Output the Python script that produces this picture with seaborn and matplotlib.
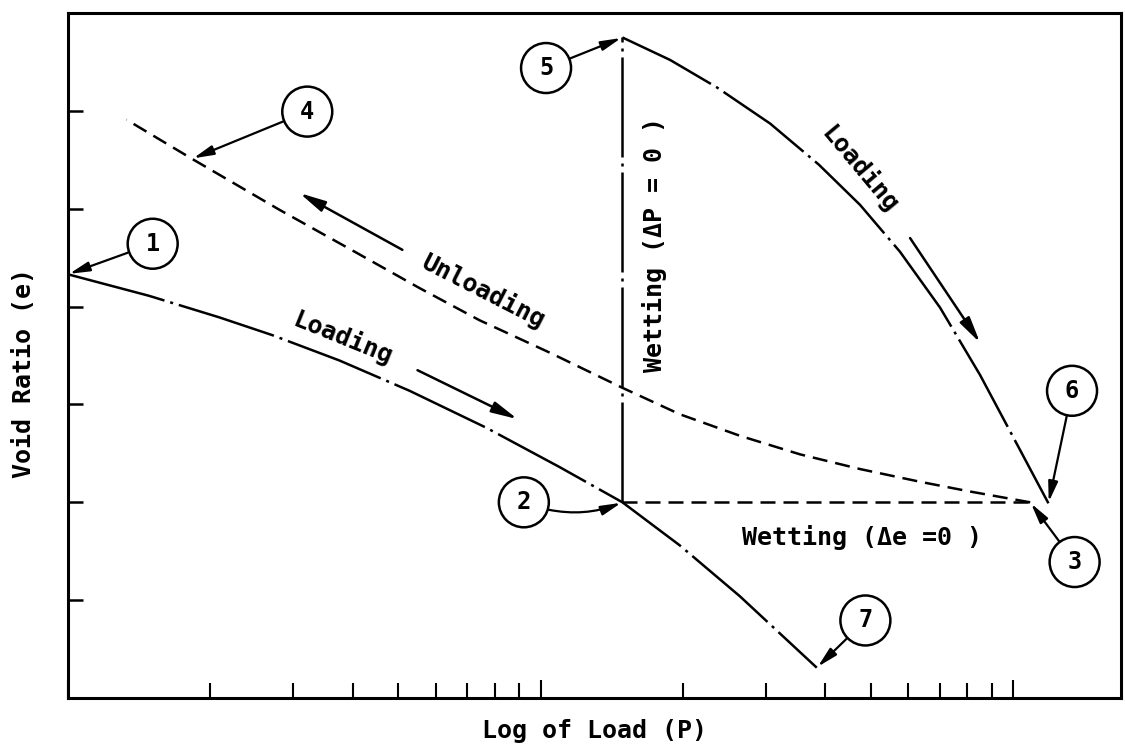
import matplotlib
matplotlib.use("Agg")
import matplotlib.pyplot as plt
from matplotlib.ticker import LogLocator, NullFormatter
import seaborn as sns

# loading path 1 -> 2 -> 7 (dash-dot)
load_a_P = [1.0, 1.485, 2.09, 2.70, 3.75, 5.28, 7.69, 10.97, 14.9, 19.7, 26.4, 38.4]
load_a_e = [4.33, 4.11, 3.89, 3.71, 3.45, 3.14, 2.76, 2.36, 2.00, 1.56, 1.04, 0.31]

# unloading path 3 -> 4 (dashed)
unload_P = [108.6, 81.1, 63.5, 47.4, 35.4, 26.4, 19.7, 14.9, 10.45, 7.43, 5.54,
            4.08, 2.80, 1.83, 1.33]
unload_e = [2.00, 2.11, 2.21, 2.34, 2.49, 2.68, 2.90, 3.17, 3.53, 3.86, 4.19,
            4.55, 4.99, 5.51, 5.91]

# loading path 5 -> 6 after wetting (dash-dot)
load_b_P = [14.9, 18.8, 23.6, 30.6, 38.8, 47.4, 57.6, 70.0, 85.1, 103.5, 118.7]
load_b_e = [6.75, 6.52, 6.24, 5.87, 5.45, 5.04, 4.56, 3.99, 3.30, 2.53, 1.99]

# wetting paths starting at point 2
wet_dP_P = [14.9, 14.9]      # constant load
wet_dP_e = [2.00, 6.75]
wet_de_P = [14.9, 108.6]     # constant void ratio
wet_de_e = [2.00, 2.00]

# numbered state points
point_labels = ['1', '2', '3', '4', '5', '6', '7']
point_P = [1.0, 14.9, 108.6, 1.83, 14.9, 118.7, 38.4]
point_e = [4.33, 2.00, 2.00, 5.51, 6.75, 1.99, 0.31]

# direction arrows (tail -> head)
arrow_tail_P = [5.10, 5.49, 60.5]
arrow_tail_e = [4.58, 3.35, 4.70]
arrow_head_P = [3.09, 8.94, 85.1]
arrow_head_e = [5.16, 2.85, 3.63]

sns.set_theme(style="white", rc={"axes.edgecolor": "black", "text.color": "black",
                                 "axes.labelcolor": "black", "xtick.color": "black",
                                 "ytick.color": "black"})
plt.rcParams['font.family'] = ['DejaVu Sans Mono', 'DejaVu Sans']
plt.rcParams['font.weight'] = 'bold'

fig = plt.figure(figsize=(11.25, 7.48), dpi=100)
ax = fig.add_axes([0.0604, 0.0668, 0.936, 0.9158])

lw = 1.8
dashdot = (0, (40, 2.4, 1.2, 2.4))
dashed = (0, (6, 3.2))

sns.lineplot(x=load_a_P, y=load_a_e, ax=ax, color='black', lw=lw, linestyle=dashdot,
             sort=False, estimator=None)
sns.lineplot(x=unload_P, y=unload_e, ax=ax, color='black', lw=lw, linestyle=dashed,
             sort=False, estimator=None)
sns.lineplot(x=load_b_P, y=load_b_e, ax=ax, color='black', lw=lw, linestyle=dashdot,
             sort=False, estimator=None)
sns.lineplot(x=wet_dP_P, y=wet_dP_e, ax=ax, color='black', lw=lw, linestyle=dashdot,
             sort=False, estimator=None)
sns.lineplot(x=wet_de_P, y=wet_de_e, ax=ax, color='black', lw=lw, linestyle=dashed,
             sort=False, estimator=None)

# circled point numbers with pointer arrows
label_offsets = [(61, 22), (-71, 0), (32, -43), (83, 34), (-55, -22), (17, 81), (35, 34)]
label_rads = [0, 0.2, 0, 0, 0, 0, 0]
for lab, p, e, off, rad in zip(point_labels, point_P, point_e, label_offsets, label_rads):
    ax.annotate(lab, xy=(p, e), xytext=off, textcoords='offset points',
                ha='center', va='center', fontsize=17,
                bbox=dict(boxstyle='circle,pad=0.55', fc='white', ec='black', lw=1.8),
                arrowprops=dict(arrowstyle='-|>,head_length=0.55,head_width=0.13',
                                color='black', lw=1.6, mutation_scale=22,
                                shrinkA=0, shrinkB=1,
                                connectionstyle=f'arc3,rad={rad}'))

for tp, te, hp, he in zip(arrow_tail_P, arrow_tail_e, arrow_head_P, arrow_head_e):
    ax.annotate('', xy=(hp, he), xytext=(tp, te),
                arrowprops=dict(arrowstyle='-|>,head_length=0.6,head_width=0.13',
                                color='black', lw=lw, mutation_scale=26,
                                shrinkA=0, shrinkB=0))

txt = dict(fontsize=18, ha='center', va='center', rotation_mode='anchor')
ax.text(7.57, 4.15, 'Unloading', rotation=-27, **txt)
ax.text(3.82, 3.68, 'Loading', rotation=-22, **txt)
ax.text(47.4, 5.40, 'Loading', rotation=-50, **txt)
ax.text(17.44, 4.63, 'Wetting (ΔP = 0 )', rotation=90, **txt)
ax.text(47.9, 1.645, 'Wetting (Δe =0 )', **txt)

ax.set_xscale('log')
ax.set_xlim(1, 169)
ax.set_ylim(0, 7)
ax.set_yticks([1, 2, 3, 4, 5, 6])
ax.xaxis.set_major_locator(LogLocator(base=10))
ax.xaxis.set_minor_locator(LogLocator(base=10, subs=range(2, 10)))
ax.xaxis.set_minor_formatter(NullFormatter())
ax.tick_params(axis='x', which='major', direction='in', length=13, width=1.5,
               bottom=True, labelbottom=False)
ax.tick_params(axis='x', which='minor', direction='in', length=10.5, width=1.5,
               bottom=True, labelbottom=False)
ax.tick_params(axis='y', which='major', direction='in', length=11, width=1.8,
               left=True, labelleft=False)
for s in ax.spines.values():
    s.set_linewidth(2.2)
    s.set_color('black')

ax.set_xlabel('Log of Load (P)', fontsize=18, fontweight='bold')
ax.xaxis.set_label_coords(0.5, -0.03)
ax.set_ylabel('Void Ratio (e)', fontsize=18, fontweight='bold')
ax.yaxis.set_label_coords(-0.03, 0.474)

fig.savefig('out.png', dpi=100)
